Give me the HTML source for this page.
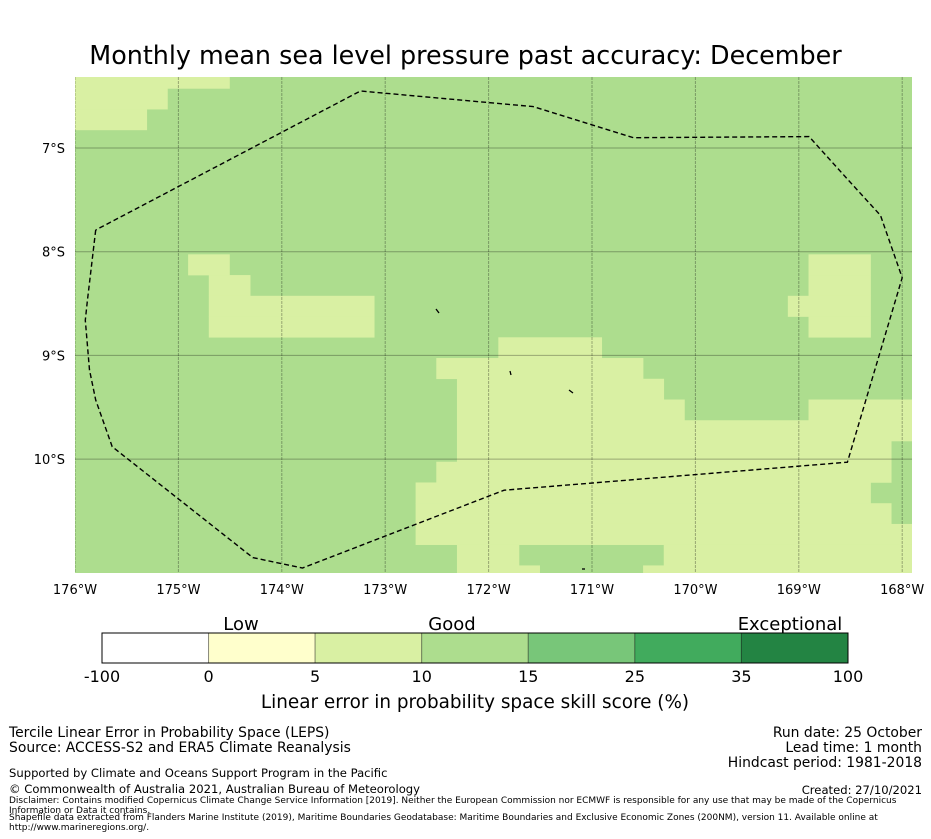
<!DOCTYPE html>
<html><head><meta charset="utf-8">
<style>
body{margin:0;background:#fff;font-family:"DejaVu Sans","Liberation Sans",sans-serif;}
#root{position:relative;width:931px;height:839px;overflow:hidden;}
.t{position:absolute;white-space:nowrap;color:#000;}
</style></head><body>
<div id="root">
<div class="t" style="left:0;width:931px;text-align:center;top:40px;font-size:25.4px;">Monthly mean sea level pressure past accuracy: December</div>
<svg id="map" width="931" height="600" style="position:absolute;left:0;top:0"></svg>
<svg id="cbar" width="931" height="110" style="position:absolute;left:0;top:600px"></svg>
<div class="t" style="left:0;width:950px;text-align:center;top:692px;font-size:18.4px;">Linear error in probability space skill score (%)</div>
<div class="t" style="left:9px;top:726px;font-size:13.9px;line-height:15px;">Tercile Linear Error in Probability Space (LEPS)<br>Source: ACCESS-S2 and ERA5 Climate Reanalysis</div>
<div class="t" style="right:9px;top:726px;font-size:13.9px;line-height:15px;text-align:right;">Run date: 25 October<br>Lead time: 1 month<br>Hindcast period: 1981-2018</div>
<div class="t" style="left:9px;top:766px;font-size:11.6px;">Supported by Climate and Oceans Support Program in the Pacific</div>
<div class="t" style="left:9px;top:782px;font-size:11.6px;">© Commonwealth of Australia 2021, Australian Bureau of Meteorology</div>
<div class="t" style="right:9px;top:783px;font-size:11.6px;">Created: 27/10/2021</div>
<div class="t" style="left:9px;top:796px;font-size:9px;line-height:10px;white-space:normal;width:915px;">Disclaimer: Contains modified Copernicus Climate Change Service Information [2019]. Neither the European Commission nor ECMWF is responsible for any use that may be made of the Copernicus Information or Data it contains.</div>
<div class="t" style="left:9px;top:813px;font-size:9px;line-height:10px;white-space:normal;width:915px;">Shapefile data extracted from Flanders Marine Institute (2019), Maritime Boundaries Geodatabase: Maritime Boundaries and Exclusive Economic Zones (200NM), version 11. Available online at http://www.marineregions.org/.</div>
</div>
<script>
// light (5-10) cells: [row, colStart, colEnd]; all others are 10-15 band
const lightRuns=[[0,0,7],[1,0,4],[2,0,3],[9,6,7],[10,7,8],[11,7,14],[12,7,14],
[9,36,38],[10,36,38],[11,35,38],[12,36,38],
[13,21,25],[14,18,27],[15,19,28],[16,19,29],[16,36,40],[17,19,40],[18,19,39],[19,18,39],
[20,17,38],[21,17,39],[22,17,40],[23,19,21],[23,29,40],[24,19,22],[24,28,40]];
const lonTicks=[-176,-175,-174,-173,-172,-171,-170,-169,-168];
const latTicks=[-7,-8,-9,-10];
const boundaryLon=[-175.8,-175.88,-175.9,-175.86,-175.8,-175.64,-174.28,-173.8,-171.85,-168.53,-168.0,-168.21,-168.52,-168.9,-170.6,-171.57,-173.24,-175.8];
const boundaryLat=[-7.79,-8.47,-8.66,-9.14,-9.43,-9.88,-10.95,-11.05,-10.3,-10.03,-8.25,-7.65,-7.31,-6.89,-6.9,-6.6,-6.45,-7.79];
const cbBounds=["-100","0","5","10","15","25","35","100"];
const cbColors=["#ffffff","#ffffcc","#d9f0a3","#addd8e","#78c679","#41ab5d","#238443"];
const cbCats=["Low","Good","Exceptional"];

const NS="http://www.w3.org/2000/svg";
const FF="DejaVu Sans, Liberation Sans, sans-serif";
const X0=75,X1=912,Y0=77,Y1=573,PX=103.4,PY=103.7;
function xs(lon){return X0+(lon+176)*PX;}
function ys(lat){return Y0+(-6.315-lat)*PY;}
const CW=0.2*PX,CH=0.2*PY;
function cx(c){return X0+(c-0.53)*CW;}
function cy(r){return Y0+(r-0.45)*CH;}
function mk(t,a,p){const e=document.createElementNS(NS,t);for(const k in a)e.setAttribute(k,a[k]);p.appendChild(e);return e;}
const map=document.getElementById('map');
const clip=mk('clipPath',{id:'pc'},map);mk('rect',{x:X0,y:Y0,width:X1-X0,height:Y1-Y0},clip);
const g=mk('g',{'clip-path':'url(#pc)'},map);
const bg=mk('rect',{x:X0,y:Y0,width:X1-X0,height:Y1-Y0,fill:'#addd8e'},g);


lightRuns.forEach(r=>{
  const e=mk('rect',{x:cx(r[1]),y:cy(r[0]),width:(r[2]-r[1]+1)*CW+0.3,height:CH+0.3,fill:'#d9f0a3'},g);
  
  
});
lonTicks.forEach(l=>{
  const x=xs(l);
  mk('line',{x1:x,x2:x,y1:Y0,y2:Y1,stroke:'rgba(0,0,0,0.3)','stroke-width':1,'stroke-dasharray':'3,1'},g);
  const t=mk('text',{x:x,y:Y1+21,'font-size':13,'text-anchor':'middle','font-family':FF},map);
  t.textContent=(-l)+'°W';
  
  
});
latTicks.forEach(l=>{
  const y=ys(l);
  mk('line',{x1:X0,x2:X1,y1:y,y2:y,stroke:'rgba(0,0,0,0.3)','stroke-width':1},g);
  const t=mk('text',{x:X0-10,y:y+5,'font-size':13,'text-anchor':'end','font-family':FF},map);
  t.textContent=(-l)+'°S';
  
  
});
const pts=boundaryLon.map((l,i)=>xs(l).toFixed(1)+','+ys(boundaryLat[i]).toFixed(1)).join(' ');
const eez=mk('polyline',{points:pts,fill:'none',stroke:'#000','stroke-width':1.4,'stroke-dasharray':'5,3'},g);


[[436,309,439,313],[510,371,511,375],[569,390,573,393],[582,569,585,569]].forEach(s=>{
  const e=mk('line',{x1:s[0],y1:s[1],x2:s[2],y2:s[3],stroke:'#000','stroke-width':1.3},g);
  
  
});
// colorbar
const cb=document.getElementById('cbar');
const CB0=102,CB1=848,CBY=33,CBH=30,sw=(CB1-CB0)/cbColors.length;
cbColors.forEach((c,i)=>{
  const e=mk('rect',{x:CB0+i*sw,y:CBY,width:sw,height:CBH,fill:c,stroke:'rgba(0,0,0,0.35)','stroke-width':1},cb);
  
  
});
mk('rect',{x:CB0,y:CBY,width:CB1-CB0,height:CBH,fill:'none',stroke:'#000','stroke-width':1},cb);
cbBounds.forEach((b,i)=>{
  const t=mk('text',{x:CB0+i*sw,y:CBY+CBH+19,'font-size':16,'text-anchor':'middle','font-family':FF},cb);
  t.textContent=b;
  
  
});
const catX=[241,452,790];
cbCats.forEach((c,i)=>{
  const t=mk('text',{x:catX[i],y:CBY-3,'font-size':18,'text-anchor':'middle','font-family':FF},cb);
  t.textContent=c;
  
  
});
</script>
</body></html>
